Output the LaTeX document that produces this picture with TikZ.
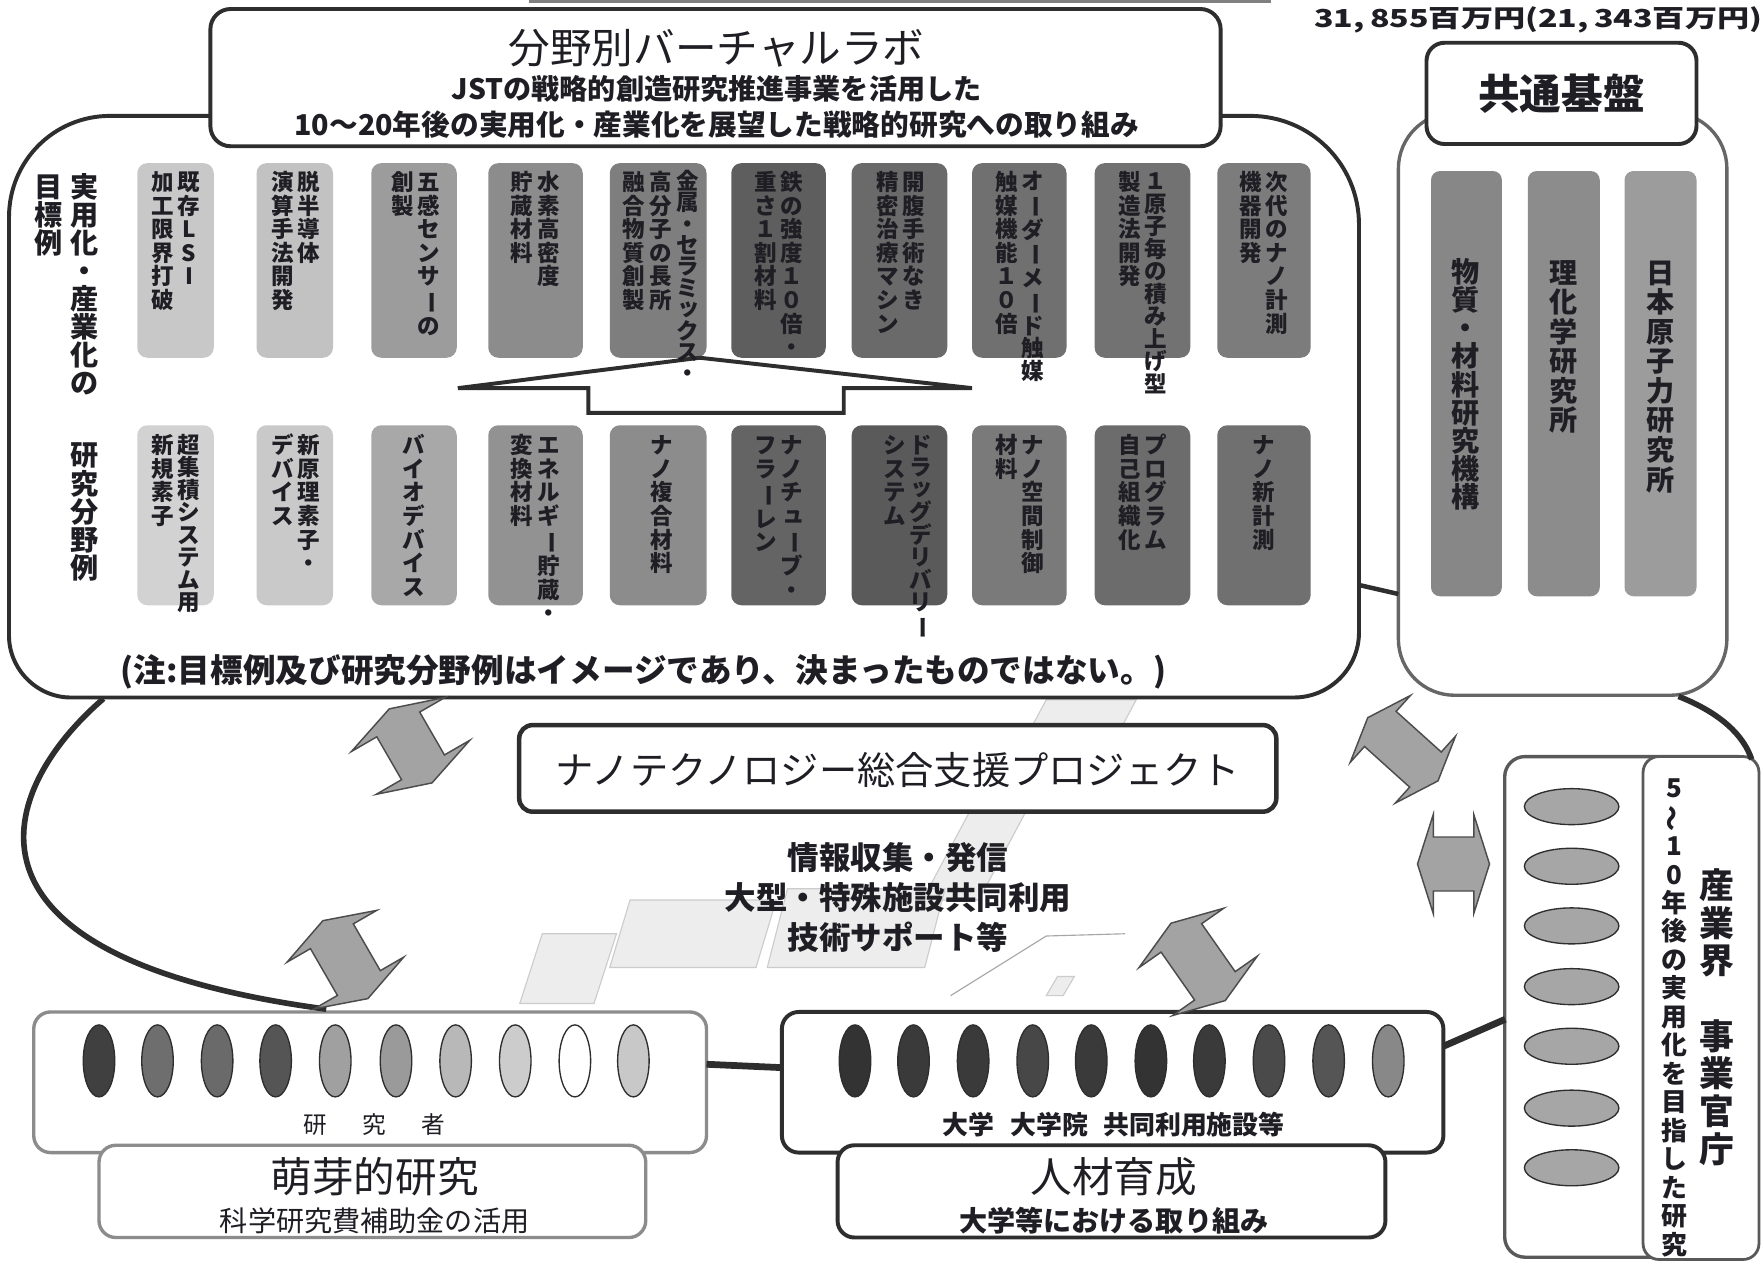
\documentclass[tikz,border=0pt]{standalone}
\usepackage{fontspec}
\setmainfont{Noto Sans CJK JP}
\usetikzlibrary{shapes.geometric}
\ExplSyntaxOn
\cs_new_protected:Npn \rs_small:n #1 { \hbox:n { \kern .08em \raisebox{.1em}{#1} \kern -.08em } }
\cs_new_protected:Npn \rs_tchar:n #1
 {
  \str_case:nnF {#1}
   {
    {ー}{\rotatebox[origin=c]{-90}{ー}}
    {～}{\rotatebox[origin=c]{90}{～}}
    {ッ}{\rs_small:n {ッ}}
    {ャ}{\rs_small:n {ャ}}
    {ュ}{\rs_small:n {ュ}}
    {ョ}{\rs_small:n {ョ}}
    {ィ}{\rs_small:n {ィ}}
    {ェ}{\rs_small:n {ェ}}
   }
   {#1}
 }
\NewDocumentCommand \tate { O{1.05} m }
 {
  \vbox:n
   {
    \offinterlineskip
    \tl_map_inline:nn {#2}
     {
      \hbox_to_wd:nn {1em}
       {
        \hss
        \vrule height \dim_eval:n { 0.88em + (#1em - 1em) / 2 } depth \dim_eval:n { 0.12em + (#1em - 1em) / 2 } width 0pt \relax
        \rs_tchar:n {##1}
        \hss
       }
     }
   }
 }
\ExplSyntaxOff
\newcommand\rsfs[1]{\fontsize{#1}{#1}\selectfont}
\definecolor{ink}{HTML}{1E1E24}
\definecolor{lin}{HTML}{2E2E2E}
\definecolor{p1}{HTML}{C8C8C8}\definecolor{p2}{HTML}{C2C2C2}\definecolor{p3}{HTML}{9C9C9C}
\definecolor{p4}{HTML}{8C8C8C}\definecolor{p5}{HTML}{7E7E7E}\definecolor{p6}{HTML}{5E5E5E}
\definecolor{p7}{HTML}{6A6A6A}\definecolor{p8}{HTML}{707070}\definecolor{p9}{HTML}{727272}
\definecolor{p10}{HTML}{7C7C7C}
\definecolor{q1}{HTML}{D2D2D2}\definecolor{q2}{HTML}{C9C9C9}\definecolor{q3}{HTML}{A8A8A8}
\definecolor{q4}{HTML}{929292}\definecolor{q5}{HTML}{8C8C8C}\definecolor{q6}{HTML}{646464}
\definecolor{q7}{HTML}{5A5A5A}\definecolor{q8}{HTML}{7A7A7A}\definecolor{q9}{HTML}{6C6C6C}
\definecolor{q10}{HTML}{707070}
\definecolor{e1}{HTML}{404040}\definecolor{e2}{HTML}{6E6E6E}\definecolor{e3}{HTML}{6A6A6A}
\definecolor{e4}{HTML}{555555}\definecolor{e5}{HTML}{A0A0A0}\definecolor{e6}{HTML}{9A9A9A}
\definecolor{e7}{HTML}{B8B8B8}\definecolor{e8}{HTML}{CCCCCC}\definecolor{e9}{HTML}{FFFFFF}
\definecolor{e10}{HTML}{C8C8C8}
\definecolor{u1}{HTML}{333333}\definecolor{u2}{HTML}{3A3A3A}\definecolor{u3}{HTML}{3A3A3A}
\definecolor{u4}{HTML}{474747}\definecolor{u5}{HTML}{3A3A3A}\definecolor{u6}{HTML}{333333}
\definecolor{u7}{HTML}{3A3A3A}\definecolor{u8}{HTML}{4A4A4A}\definecolor{u9}{HTML}{555555}
\definecolor{u10}{HTML}{888888}
\newcommand\pil[5]{\fill[fill=#5, rounded corners=9pt] (#1,#2) rectangle (#3,#4);}
\newcommand\darrow[7]{%
  \begin{scope}[shift={(#1,#2)}, rotate=#3]
    \draw[darr] (0,-#4) -- (#5,-#4+#7) -- (#6,-#4+#7) -- (#6,#4-#7) -- (#5,#4-#7) -- (0,#4)
      -- (-#5,#4-#7) -- (-#6,#4-#7) -- (-#6,-#4+#7) -- (-#5,-#4+#7) -- cycle;
  \end{scope}}
\begin{document}
\begin{tikzpicture}[x=1pt,y=-1pt,
  tt/.style={anchor=north, inner sep=0pt, text=ink, font=\rsfs{20}\bfseries},
  lbl/.style={inner sep=0pt, text=ink},
  tbox/.style={draw=lin, line width=3.5pt, fill=white, rounded corners=18pt, inner sep=0pt},
  gbox/.style={draw=black!45, line width=3pt, fill=white, rounded corners=15pt, inner sep=0pt},
  dbox/.style={draw=lin, line width=3.5pt, fill=white, rounded corners=15pt, inner sep=0pt},
  ell/.style={ellipse, draw=lin, line width=1.2pt, minimum width=28pt, minimum height=64pt, inner sep=0pt},
  ellb/.style={ellipse, draw=lin, line width=1.2pt, fill=black!35, minimum width=84pt, minimum height=32pt, inner sep=0pt},
  darr/.style={draw=black!70, line width=1.3pt, fill=black!36, line join=miter},
  conn/.style={draw=lin, line width=5pt},
  map/.style={fill=black!7, draw=black!20, line width=1pt}
]
\useasboundingbox (0,0) rectangle (1568,1130);
\fill[white] (0,0) rectangle (1568,1130);
% faint top line
\draw[black!50, line width=2.5pt] (470,1.5) -- (1130,1.5);
% faint background map
\path[map] (930,622) -- (1010,622) -- (995,650) -- (915,650) -- cycle;
\path[map] (900,650) -- (950,650) -- (870,800) -- (820,800) -- cycle;
\path[map] (700,790) -- (840,790) -- (822,860) -- (682,860) -- cycle;
\path[map] (560,800) -- (690,800) -- (672,860) -- (542,860) -- cycle;
\path[map] (482,830) -- (548,830) -- (528,892) -- (462,892) -- cycle;
\draw[black!35, line width=1pt] (845,885) -- (930,832) -- (1000,830);
\path[map] (930,885) -- (940,868) -- (955,868) -- (945,885) -- cycle;

% big container
\draw[lin, line width=3.5pt] (187,103) -- (98,103) .. controls (48,103) and (8,143) .. (8,193)
  -- (8,565) .. controls (8,595) and (33,620) .. (63,620) -- (1150,620)
  .. controls (1182,620) and (1208,594) .. (1208,562) -- (1208,200)
  .. controls (1208,146) and (1165,103) .. (1111,103) -- (1085,103);
\coordinate (bbR) at (1208,520);
\coordinate (bbBL) at (92,621);

% title box
\node[tbox, minimum width=898pt, minimum height=122pt] (ttl) at (636,69) {};
\node[lbl, font=\rsfs{37}] (ttl1) at (637,43) {分野別バーチャルラボ};
\node[lbl, font=\rsfs{25}\bfseries] (ttl2) at (637,79) {JSTの戦略的創造研究推進事業を活用した};
\node[lbl, font=\rsfs{25.5}\bfseries] (ttl3) at (637,111) {10～20年後の実用化・産業化を展望した戦略的研究への取り組み};

% budget
\node[lbl, anchor=west, font=\rsfs{22}\bfseries] (budget) at (1168,18) {\scalebox{1.3}[1]{31,\,855百万円(21,\,343百万円)}};

% left labels
\node[tt, font=\rsfs{25}\bfseries] (lab1) at (75,153) {\tate[1.0]{実用化・産業化の}};
\node[tt, font=\rsfs{25}\bfseries] (lab2) at (43,153) {\tate[1.0]{目標例}};
\node[tt, font=\rsfs{25}\bfseries] (lab3) at (75,392) {\tate[1.0]{研究分野例}};

% top row pillars
\pil{122}{145}{190}{318}{p1}
\pil{228}{145}{296}{318}{p2}
\pil{330}{145}{406}{318}{p3}
\pil{434}{145}{518}{318}{p4}
\pil{542}{145}{628}{318}{p5}
\pil{650}{145}{734}{318}{p6}
\pil{757}{145}{842}{318}{p7}
\pil{864}{145}{948}{318}{p8}
\pil{973}{145}{1058}{318}{p9}
\pil{1082}{145}{1165}{318}{p10}

% outline up arrow
\draw[draw=lin, line width=3.5pt, fill=white, line join=miter] (622,318) -- (864,345) -- (750,345) -- (750,367) -- (523,367) -- (523,345) -- (407,345) -- cycle;
\coordinate (upar) at (622,318);

\node[tt] (a1) at (168,151) {\tate{既存LSI}};
\node[tt] (a2) at (145,151) {\tate{加工限界打破}};
\node[tt] (b1) at (274,151) {\tate{脱半導体}};
\node[tt] (b2) at (251,151) {\tate{演算手法開発}};
\node[tt] (c1) at (381,151) {\tate{五感センサーの}};
\node[tt] (c2) at (358,151) {\tate{創製}};
\node[tt] (d1) at (488,151) {\tate{水素高密度}};
\node[tt] (d2) at (464,151) {\tate{貯蔵材料}};
\node[tt] (f1) at (611,151) {\tate[0.95]{金属・セラミックス・}};
\node[tt] (f2) at (587,151) {\tate{高分子の長所}};
\node[tt] (f3) at (563,151) {\tate{融合物質創製}};
\node[tt] (g1) at (704,151) {\tate{鉄の強度１０倍・}};
\node[tt] (g2) at (681,151) {\tate{重さ１割材料}};
\node[tt] (h1) at (812,151) {\tate{開腹手術なき}};
\node[tt] (h2) at (789,151) {\tate{精密治療マシン}};
\node[tt] (i1) at (918,151) {\tate[1.0]{オーダーメード触媒}};
\node[tt] (i2) at (895,151) {\tate{触媒機能１０倍}};
\node[tt] (j1) at (1027,151) {\tate[1.0]{１原子毎の積み上げ型}};
\node[tt] (j2) at (1004,151) {\tate{製造法開発}};
\node[tt] (k1) at (1135,151) {\tate{次代のナノ計測}};
\node[tt] (k2) at (1112,151) {\tate{機器開発}};

% bottom row pillars
\pil{122}{378}{190}{538}{q1}
\pil{228}{378}{296}{538}{q2}
\pil{330}{378}{406}{538}{q3}
\pil{434}{378}{518}{538}{q4}
\pil{542}{378}{628}{538}{q5}
\pil{650}{378}{734}{538}{q6}
\pil{757}{378}{842}{538}{q7}
\pil{864}{378}{948}{538}{q8}
\pil{973}{378}{1058}{538}{q9}
\pil{1082}{378}{1165}{538}{q10}

\node[tt] (m1) at (168,385) {\tate[1.0]{超集積システム用}};
\node[tt] (m2) at (145,385) {\tate{新規素子}};
\node[tt] (n1) at (274,385) {\tate{新原理素子・}};
\node[tt] (n2) at (251,385) {\tate{デバイス}};
\node[tt] (o1) at (368,385) {\tate{バイオデバイス}};
\node[tt] (r1) at (488,385) {\tate{エネルギー貯蔵・}};
\node[tt] (r2) at (464,385) {\tate{変換材料}};
\node[tt] (s1) at (588,385) {\tate{ナノ複合材料}};
\node[tt] (v1) at (704,385) {\tate{ナノチューブ・}};
\node[tt] (v2) at (681,385) {\tate{フラーレン}};
\node[tt] (w1) at (818,385) {\tate[1.0]{ドラッグデリバリー}};
\node[tt] (w2) at (795,385) {\tate{システム}};
\node[tt] (x1) at (918,385) {\tate{ナノ空間制御}};
\node[tt] (x2) at (895,385) {\tate{材料}};
\node[tt] (y1) at (1027,385) {\tate{プログラム}};
\node[tt] (y2) at (1004,385) {\tate{自己組織化}};
\node[tt] (z1) at (1123,385) {\tate{ナノ新計測}};

\node[lbl, font=\rsfs{29}\bfseries] (note) at (572,597) {(注:目標例及び研究分野例はイメージであり、決まったものではない。)};

% common base
\node[draw=black!60, line width=3pt, fill=white, rounded corners=50pt, minimum width=292pt, minimum height=518pt, inner sep=0pt] (kc) at (1389,359) {};
\node[tbox, rounded corners=16pt, minimum width=240pt, minimum height=90pt] (kt) at (1388,83) {};
\node[lbl, font=\rsfs{37}\bfseries] (kttxt) at (1388,83) {共通基盤};
\fill[fill=black!47, rounded corners=8pt] (1272,152) rectangle (1335,530);
\fill[fill=black!45, rounded corners=8pt] (1358,152) rectangle (1422,530);
\fill[fill=black!39, rounded corners=8pt] (1444,152) rectangle (1508,530);
\node[tt, font=\rsfs{25}\bfseries] (kp1) at (1303,229) {\tate[1.0]{物質・材料研究機構}};
\node[tt, font=\rsfs{25}\bfseries] (kp2) at (1390,229) {\tate{理化学研究所}};
\node[tt, font=\rsfs{25}\bfseries] (kp3) at (1476,229) {\tate{日本原子力研究所}};
\coordinate (kcL) at (1243,528);
\coordinate (kcB) at (1492,619);
\draw[lin, line width=4pt] (bbR) -- (kcL);

% project box
\node[dbox, line width=4pt, rounded corners=12pt, minimum width=673pt, minimum height=77pt] (proj) at (798,683) {};
\node[lbl, font=\rsfs{34}] (projtxt) at (798,684) {ナノテクノロジー総合支援プロジェクト};
\node[lbl, font=\rsfs{28}\bfseries] (s1t) at (798,762) {情報収集・発信};
\node[lbl, font=\rsfs{28}\bfseries] (s2t) at (798,798) {大型・特殊施設共同利用};
\node[lbl, font=\rsfs{28}\bfseries] (s3t) at (798,833) {技術サポート等};

% researcher box
\node[gbox, minimum width=598pt, minimum height=125pt] (res) at (329,962) {};
\foreach \x [count=\i] in {88,140,193,245,298,352,405,458,511,563}
  \node[ell, fill=e\i] (re\i) at (\x,943) {};
\node[lbl, font=\rsfs{21}] (reslbl) at (333,1000) {研\hspace{1.5em}究\hspace{1.5em}者};
\node[gbox, minimum width=486pt, minimum height=82pt] (hoga) at (331,1059) {};
\node[lbl, font=\rsfs{37}] (hoga1) at (333,1046) {萌芽的研究};
\node[lbl, font=\rsfs{25}] (hoga2) at (333,1085) {科学研究費補助金の活用};
\coordinate (resT) at (290,897);
\coordinate (resR) at (628,946);

% university box
\node[dbox, minimum width=588pt, minimum height=125pt] (uni) at (989,962) {};
\foreach \x [count=\i] in {760,812,865,918,970,1023,1075,1128,1181,1234}
  \node[ell, fill=u\i] (ue\i) at (\x,943) {};
\node[lbl, font=\rsfs{23}\bfseries] (unilbl) at (990,1000) {大学\hspace{.6em}大学院\hspace{.6em}共同利用施設等};
\node[dbox, minimum width=487pt, minimum height=82pt] (jin) at (988,1059) {};
\node[lbl, font=\rsfs{37}] (jin1) at (990,1046) {人材育成};
\node[lbl, font=\rsfs{25}\bfseries] (jin2) at (990,1085) {大学等における取り組み};
\coordinate (uniL) at (695,949);
\coordinate (uniR) at (1283,930);

% industry box
\node[draw=black!65, line width=3pt, fill=white, rounded corners=18pt, minimum width=225pt, minimum height=445pt, inner sep=0pt] (ind) at (1450,895) {};
\node[draw=black!65, line width=2.5pt, fill=white, rounded corners=14pt, minimum width=103pt, minimum height=447pt, inner sep=0pt] (indp) at (1512,896) {};
\foreach \y [count=\i] in {717,770,823,877,930,985,1038}
  \node[ellb] (ie\i) at (1397,\y) {};
\node[tt, font=\rsfs{31}\bfseries] (indt1) at (1526,770) {\tate[1.08]{産業界　事業官庁}};
\node[tt, font=\rsfs{23}\bfseries] (indt2) at (1488,687) {\tate[1.1]{5～10年後の実用化を目指した研究}};
\coordinate (indT) at (1557,675);
\coordinate (indL) at (1338,906);

% connectors
\draw[conn] (bbBL) .. controls (0,700) and (-60,850) .. (resT);
\draw[conn] (kcB) .. controls (1530,634) and (1550,654) .. (indT);
\draw[conn, line width=6pt] (resR) -- (uniL);
\draw[conn, line width=6pt] (uniR) -- (indL);

% double arrows
\darrow{365}{663}{30}{38}{48}{22}{16}
\darrow{307}{853}{30}{40}{46}{22}{16}
\darrow{1247}{666}{48}{42}{40}{21}{15}
\darrow{1292}{768}{90}{32}{44}{24}{14}
\darrow{1065}{855}{35}{42}{46}{22}{16}
\end{tikzpicture}
\end{document}
